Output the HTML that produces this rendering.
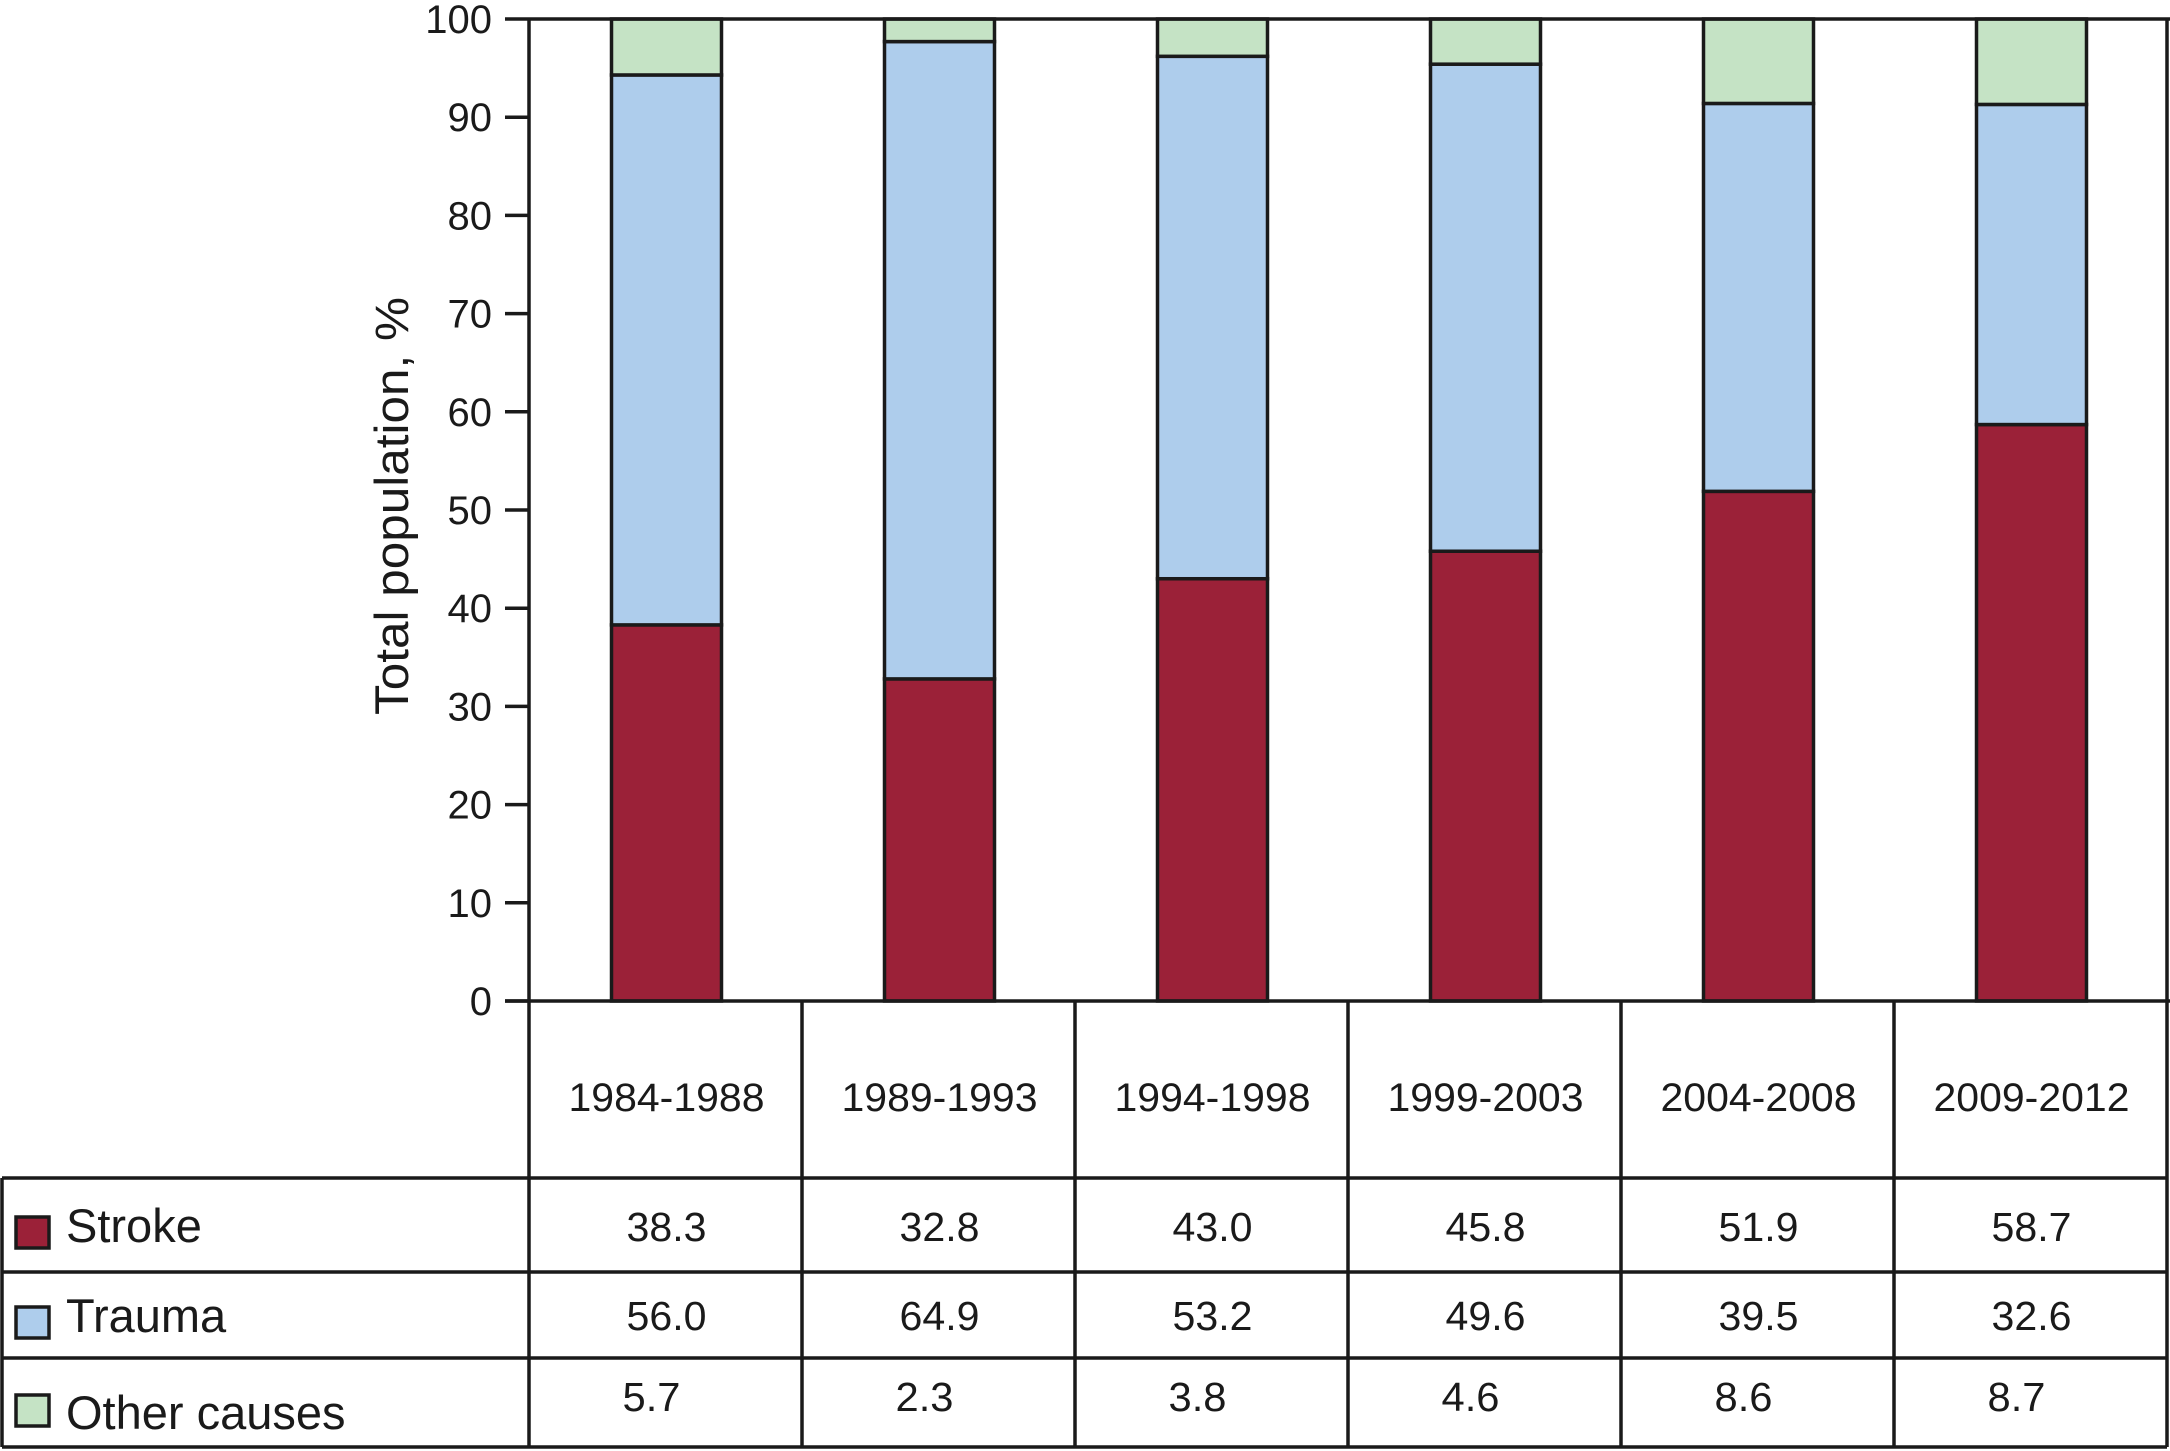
<!DOCTYPE html>
<html><head><meta charset="utf-8"><style>
html,body{margin:0;padding:0;background:#fff;}
svg{display:block;}
text{font-family:"Liberation Sans",sans-serif;fill:#1a1a1a;}
</style></head><body>
<svg id="chart" width="2170" height="1451" viewBox="0 0 2170 1451" xmlns="http://www.w3.org/2000/svg">
<g id="grid"></g>
<g id="bars"></g>
<g id="axis"></g>
<g id="table"></g>
<text transform="translate(408,506) rotate(-90)" text-anchor="middle" font-size="47" textLength="418" lengthAdjust="spacingAndGlyphs">Total population, %</text>
</svg>
<script>
const categories = ["1984-1988","1989-1993","1994-1998","1999-2003","2004-2008","2009-2012"];
const stroke = [38.3,32.8,43.0,45.8,51.9,58.7];
const trauma = [56.0,64.9,53.2,49.6,39.5,32.6];
const other = [5.7,2.3,3.8,4.6,8.6,8.7];
const yTicks = [0,10,20,30,40,50,60,70,80,90,100];
const seriesNames = ["Stroke","Trauma","Other causes"];

const NS="http://www.w3.org/2000/svg";
const y0=1001, y100=19, axisX=529, colW=273.0, rightX=2167;
const y = v => y0 + (y100-y0)*v/100;
const colLeft = i => axisX + i*colW;
const xc = i => colLeft(i) + colW/2;
const barW=110;
const SW=3.5;
const colors=["#9b2138","#aecdec","#c5e3c5"];
function mk(tag,attrs,parent){const e=document.createElementNS(NS,tag);for(const k in attrs)e.setAttribute(k,attrs[k]);parent.appendChild(e);return e;}
const L="#1a1a1a";
const bars=document.getElementById('bars'),axis=document.getElementById('axis'),table=document.getElementById('table'),grid=document.getElementById('grid');

categories.forEach((c,i)=>{
  const segs=[stroke[i],trauma[i],other[i]];
  let base=0;
  segs.forEach((v,s)=>{
    let top=base+v; if(s===2) top=100;
    const r=mk('rect',{x:xc(i)-barW/2+1,y:y(top),width:barW,height:y(base)-y(top),fill:colors[s],stroke:L,'stroke-width':SW},bars);
    
    
    base=top;
  });
});

let e;
e=mk('line',{x1:axisX,y1:y100,x2:axisX,y2:1447,stroke:L,'stroke-width':SW},axis);

e=mk('line',{x1:axisX,y1:y100,x2:2170,y2:y100,stroke:L,'stroke-width':SW},axis);

e=mk('line',{x1:rightX,y1:y100,x2:rightX,y2:1447,stroke:L,'stroke-width':SW},axis);

yTicks.forEach(t=>{
  const tl=mk('line',{x1:505,y1:y(t),x2:axisX,y2:y(t),stroke:L,'stroke-width':SW},axis);
  
  const tx=mk('text',{x:492,y:y(t)+14,'text-anchor':'end','font-size':40},axis);
  tx.textContent=t;
  
});
e=mk('line',{x1:505,y1:y0,x2:2170,y2:y0,stroke:L,'stroke-width':SW},axis);


const hLines=[1178,1272,1358,1447];
hLines.forEach(hy=>{
  const l=mk('line',{x1:2,y1:hy,x2:rightX,y2:hy,stroke:L,'stroke-width':SW},grid);
  
});
e=mk('line',{x1:2,y1:1178,x2:2,y2:1447,stroke:L,'stroke-width':SW},grid);

for(let i=1;i<categories.length;i++){
  const l=mk('line',{x1:colLeft(i),y1:y0,x2:colLeft(i),y2:1447,stroke:L,'stroke-width':SW},grid);
  
}
categories.forEach((c,i)=>{
  const t=mk('text',{x:xc(i)+1,y:1111,'text-anchor':'middle','font-size':40,textLength:196,lengthAdjust:'spacingAndGlyphs'},table);
  t.textContent=c;
  
});
const rowData=[stroke,trauma,other];
const valBase=[1241,1330,1411];
const valDx=[0,0,-15];
const labBase=[1242,1332,1429];
const sqY=[1217,1307,1395];
rowData.forEach((arr,r)=>{
  const sq=mk('rect',{x:16,y:sqY[r],width:33,height:31,fill:colors[r],stroke:L,'stroke-width':SW},table);
  
  
  const lb=mk('text',{x:66,y:labBase[r],'font-size':47},table);
  lb.textContent=seriesNames[r];
  
  arr.forEach((v,i)=>{
    const t=mk('text',{x:xc(i)+valDx[r]+1,y:valBase[r],'text-anchor':'middle','font-size':41,textLength:(v>=10?80:58),lengthAdjust:'spacingAndGlyphs'},table);
    t.textContent=v.toFixed(1);
    
  });
});
</script>
</body></html>
